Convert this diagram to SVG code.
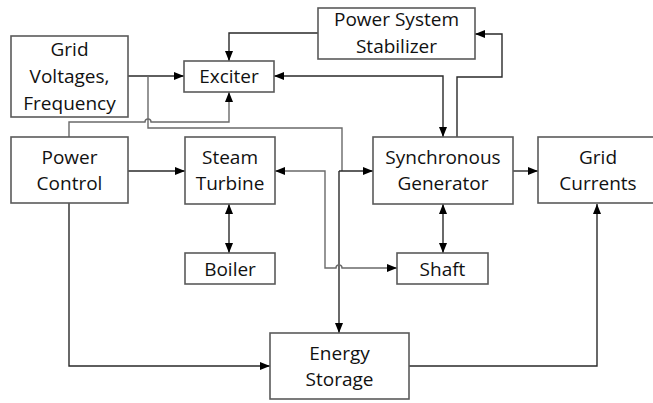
<svg xmlns="http://www.w3.org/2000/svg" width="653" height="403" viewBox="0 0 653 403">
<style>
.box{fill:#fff;stroke:#5a5a5a;stroke-width:1.6}
.t{font-family:"Open Sans","Liberation Sans",sans-serif;font-size:19px;fill:#111;text-anchor:middle}
.c{fill:none;stroke:#2a2a2a;stroke-width:1.4}
.g{fill:none;stroke:#6a6a6a;stroke-width:1.4}
</style>
<defs>
<marker id="a" markerUnits="userSpaceOnUse" markerWidth="11" markerHeight="9" refX="10" refY="4" orient="auto-start-reverse">
<path d="M0,0 L10,4 L0,8 z" fill="#000"/>
</marker>
</defs>
<g id="connectors">
<path class="c" d="M128,76 H184" marker-end="url(#a)"/>
<path class="g" d="M148,76 V128 H342 V171"/>
<path class="c" d="M339,171 H373" marker-end="url(#a)"/>
<path class="c" d="M339,171 V333" marker-end="url(#a)"/>
<path class="g" d="M69,137 V122 H145 a3,3 0 0 1 6,0 H229 V92" marker-end="url(#a)"/>
<path class="c" d="M128,171 H185" marker-end="url(#a)"/>
<path class="c" d="M69,203 V366 H270" marker-end="url(#a)"/>
<path class="c" d="M229,204 V253" marker-start="url(#a)" marker-end="url(#a)"/>
<path class="g" d="M275,171 H325 V268 H336 a3,3 0 0 1 6,0 H397" marker-start="url(#a)" marker-end="url(#a)"/>
<path class="c" d="M443,204 V253" marker-start="url(#a)" marker-end="url(#a)"/>
<path class="c" d="M513,171 H538" marker-end="url(#a)"/>
<path class="c" d="M409,366 H597 V204" marker-end="url(#a)"/>
<path class="c" d="M318,33 H229 V61" marker-end="url(#a)"/>
<path class="c" d="M457,137 V77 H502 V34 H475" marker-end="url(#a)"/>
<path class="c" d="M274,76 H443 V137" marker-start="url(#a)" marker-end="url(#a)"/>
</g>
<g id="grid-voltages"><rect class="box" x="11" y="36" width="117" height="81"/><text class="t" x="69.5" y="56">Grid</text><text class="t" x="69.5" y="83">Voltages,</text><text class="t" x="69.5" y="110">Frequency</text></g>
<g id="exciter"><rect class="box" x="184" y="61" width="90" height="31"/><text class="t" x="229" y="83">Exciter</text></g>
<g id="pss"><rect class="box" x="318" y="8" width="157" height="51"/><text class="t" x="396.5" y="26">Power System</text><text class="t" x="396.5" y="53">Stabilizer</text></g>
<g id="power-control"><rect class="box" x="11" y="137" width="117" height="66"/><text class="t" x="69.5" y="164">Power</text><text class="t" x="69.5" y="190">Control</text></g>
<g id="steam-turbine"><rect class="box" x="185" y="137" width="90" height="67"/><text class="t" x="230" y="164">Steam</text><text class="t" x="230" y="190">Turbine</text></g>
<g id="generator"><rect class="box" x="373" y="137" width="140" height="67"/><text class="t" x="443" y="164">Synchronous</text><text class="t" x="443" y="190">Generator</text></g>
<g id="grid-currents"><rect class="box" x="538" y="137" width="120" height="66"/><text class="t" x="598" y="164">Grid</text><text class="t" x="598" y="190">Currents</text></g>
<g id="boiler"><rect class="box" x="185" y="253" width="90" height="31"/><text class="t" x="230" y="276">Boiler</text></g>
<g id="shaft"><rect class="box" x="397" y="253" width="91" height="31"/><text class="t" x="442.5" y="276">Shaft</text></g>
<g id="energy-storage"><rect class="box" x="270" y="333" width="139" height="66"/><text class="t" x="339.5" y="360">Energy</text><text class="t" x="339.5" y="386">Storage</text></g>
</svg>
